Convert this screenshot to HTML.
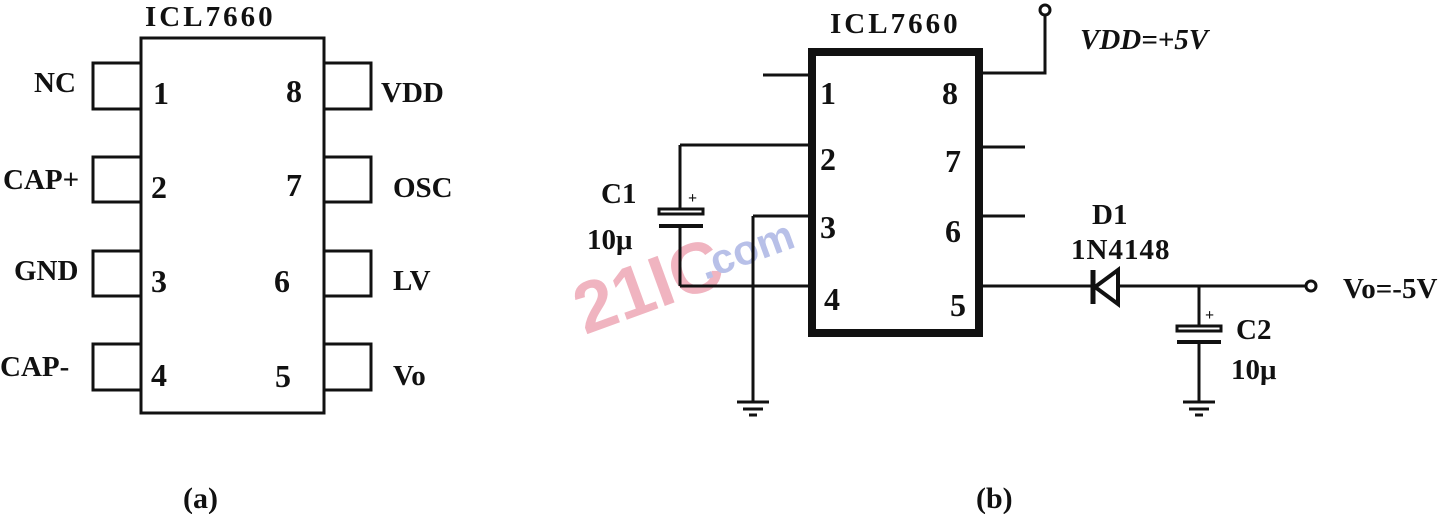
<!DOCTYPE html>
<html><head><meta charset="utf-8"><style>
html,body{margin:0;padding:0;background:#fff;}
svg{display:block}
text{font-family:"Liberation Serif",serif;font-weight:bold;fill:#111;}
</style></head><body>
<svg width="1443" height="514" viewBox="0 0 1443 514" xmlns="http://www.w3.org/2000/svg">
<text x="585" y="335" font-size="72" style="fill:#f0b4c0;font-family:'Liberation Sans',sans-serif" transform="rotate(-20 585 335)">21IC</text>
<text x="705" y="280" font-size="42" style="fill:#b8c0e8;font-family:'Liberation Sans',sans-serif" transform="rotate(-20 705 280)">.com</text>
<g stroke="#111" stroke-width="3" fill="none">
<rect x="141" y="38" width="183" height="375"/>
<path d="M141 63H93V109H141M141 157H93V202H141M141 251H93V296H141M141 344H93V390H141"/>
<path d="M324 63H371V109H324M324 157H371V202H324M324 251H371V296H324M324 344H371V390H324"/>
<rect x="812" y="52" width="167" height="281" stroke-width="8"/>
<path d="M763 75H809M680 145H809M753 216H809M680 286H809"/>
<path d="M680 145V210M680 226V286"/>
<rect x="659" y="209" width="44" height="5" stroke-width="3"/>
<path d="M659 226H703" stroke-width="4"/>
<path d="M753 216V402M737 402H769M743 409H763M749 415H757"/>
<path d="M981 73H1045V16"/>
<circle cx="1045" cy="10" r="5"/>
<path d="M981 147H1025M981 216H1025M981 286H1092M1118 286H1305"/>
<circle cx="1311" cy="286" r="5"/>
<path d="M1093 270V304" stroke-width="5"/>
<path d="M1118 270L1095 287L1118 304Z" stroke-width="4"/>
<path d="M1199 286V326M1199 342V402M1183 402H1215M1189 409H1209M1195 415H1203"/>
<rect x="1177" y="326" width="44" height="5"/>
<path d="M1177 342H1221" stroke-width="4"/>
</g>
<text x="688" y="203" font-size="16">+</text>
<text x="1205" y="320" font-size="16">+</text>
<g font-size="29">
<text x="145" y="26" letter-spacing="3">ICL7660</text>
<text x="34" y="92">NC</text><text x="3" y="189">CAP+</text>
<text x="14" y="280">GND</text><text x="0" y="376">CAP-</text>
<text x="381" y="102">VDD</text><text x="393" y="197">OSC</text>
<text x="393" y="290">LV</text><text x="393" y="385">Vo</text>
<text x="830" y="33" letter-spacing="3">ICL7660</text>
<text x="601" y="203">C1</text><text x="587" y="249">10μ</text>
<text x="1080" y="49" font-style="italic">VDD=+5V</text>
<text x="1092" y="224">D1</text><text x="1071" y="259" letter-spacing="1">1N4148</text>
<text x="1343" y="298">Vo=-5V</text>
<text x="1236" y="339">C2</text><text x="1231" y="379">10μ</text>
</g>
<g font-size="32">
<text x="153" y="104">1</text><text x="151" y="198">2</text><text x="151" y="292">3</text><text x="151" y="386">4</text>
<text x="286" y="102">8</text><text x="286" y="196">7</text><text x="274" y="292">6</text><text x="275" y="387">5</text>
<text x="820" y="104">1</text><text x="820" y="170">2</text><text x="820" y="238">3</text><text x="824" y="310">4</text>
<text x="942" y="104">8</text><text x="945" y="172">7</text><text x="945" y="242">6</text><text x="950" y="316">5</text>
</g>
<g font-size="30" style="font-weight:normal">
<text x="183" y="508">(a)</text>
<text x="976" y="508">(b)</text>
</g>
</svg>
</body></html>
